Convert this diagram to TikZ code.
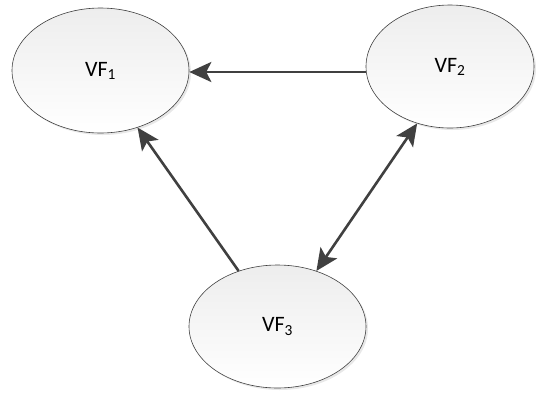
\documentclass[tikz,border=0pt]{standalone}
\usepackage{fontspec}
\setmainfont{Carlito}
\usetikzlibrary{shapes.geometric,arrows.meta,shadows}
\tikzset{head/.tip={Stealth[length=22pt,width=20pt,inset=5pt]}}
\begin{document}
\begin{tikzpicture}[x=1pt,y=-1pt,
  vf/.style={ellipse, draw=black!75, line width=0.6pt,
    minimum width=#1, inner sep=0pt,
    top color=black!7, bottom color=white,
    drop shadow={shadow xshift=2pt, shadow yshift=-2pt, fill=black!15, opacity=0.6},
    font=\fontsize{22}{26}\selectfont},
  link/.style={draw=black!75, line width=2.6pt, -head},
  both/.style={link, head-head}]
\useasboundingbox (0,0) rectangle (536,392);
\node[vf=177pt, minimum height=125pt] (vf1) at (100.5,70.5) {VF\textsubscript{1}};
\node[vf=168pt, minimum height=123pt] (vf2) at (450,66.5) {VF\textsubscript{2}};
\node[vf=177pt, minimum height=123pt] (vf3) at (277.5,326.5) {VF\textsubscript{3}};
\draw[link] (vf2.west |- 0,72) -- (vf1.east |- 0,72);
\draw[link] (vf3.125) -- (vf1.-57);
\draw[both] (vf3.55) -- (vf2.-120);
\end{tikzpicture}
\end{document}
